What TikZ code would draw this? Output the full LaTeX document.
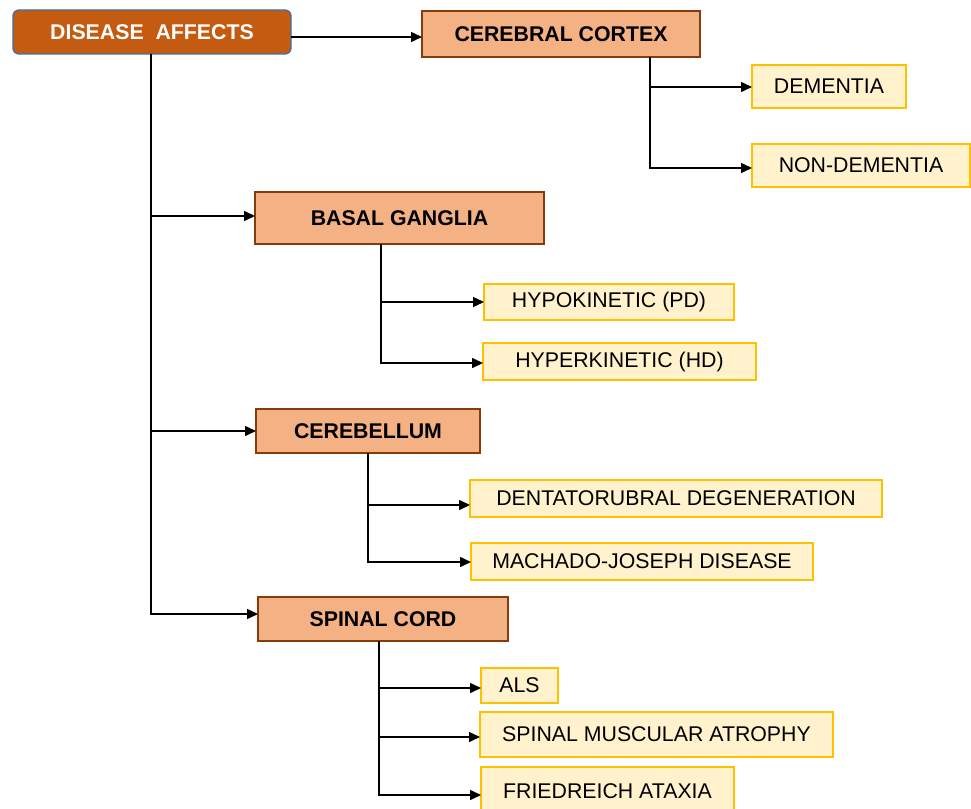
\documentclass[tikz,border=0pt]{standalone}
\usepackage{fontspec}
\setmainfont{Liberation Sans}
\usetikzlibrary{arrows.meta}
\definecolor{rootfill}{HTML}{C55A11}
\definecolor{rootline}{HTML}{41719C}
\definecolor{catfill}{HTML}{F4B183}
\definecolor{catline}{HTML}{843C0C}
\definecolor{leaffill}{HTML}{FFF2CC}
\definecolor{leafline}{HTML}{FFC000}
\begin{document}
\begin{tikzpicture}[x=1pt,y=-1pt,
  box/.style={inner sep=0pt, outer sep=0pt, align=center, font=\fontsize{21.3}{25}\selectfont},
  rootbox/.style={box, fill=rootfill, draw=rootline, line width=1.3pt, rounded corners=6pt, text=white, font=\fontsize{21.3}{25}\selectfont\bfseries},
  catbox/.style={box, fill=catfill, draw=catline, line width=1.5pt, font=\fontsize{21.3}{25}\selectfont\bfseries},
  leafbox/.style={box, fill=leaffill, draw=leafline, line width=2pt},
  arr/.style={line width=1.5pt, -{Triangle[length=11pt,width=10pt]}}]
\useasboundingbox (0,0) rectangle (971,808);
\fill[white] (0,0) rectangle (971,808);

\node[rootbox, minimum width=278pt, minimum height=44pt] (root) at (152,32) {DISEASE\ \ AFFECTS};

\node[catbox, minimum width=278pt, minimum height=46pt] (cortex) at (561,34) {CEREBRAL CORTEX};
\node[catbox, minimum width=289pt, minimum height=52pt] (bg) at (399.5,218) {BASAL GANGLIA};
\node[catbox, minimum width=224pt, minimum height=44pt] (cb) at (368,431) {CEREBELLUM};
\node[catbox, minimum width=250pt, minimum height=44pt] (sc) at (383,619) {SPINAL CORD};

\node[leafbox, minimum width=154pt, minimum height=43pt] (dem) at (829,86.5) {DEMENTIA};
\node[leafbox, minimum width=218pt, minimum height=43pt] (nondem) at (861,165.5) {NON-DEMENTIA};
\node[leafbox, minimum width=250pt, minimum height=36pt] (hypo) at (609,302) {HYPOKINETIC (PD)};
\node[leafbox, minimum width=273pt, minimum height=37pt] (hyper) at (619.5,361.5) {HYPERKINETIC (HD)};
\node[leafbox, minimum width=412pt, minimum height=37pt] (dent) at (676,498.5) {DENTATORUBRAL DEGENERATION};
\node[leafbox, minimum width=342pt, minimum height=37pt] (mach) at (642,561.5) {MACHADO-JOSEPH DISEASE};
\node[leafbox, minimum width=77pt, minimum height=35pt] (als) at (519.5,685.5) {ALS};
\node[leafbox, minimum width=353pt, minimum height=45pt] (sma) at (656.5,734.5) {SPINAL MUSCULAR ATROPHY};
\node[leafbox, minimum width=253pt, minimum height=48pt] (fa) at (607.5,791) {FRIEDREICH ATAXIA};

\coordinate (rx) at (151,0);
\coordinate (cx) at (650,0);
\coordinate (bx) at (381,0);
\coordinate (ex) at (368,0);
\coordinate (sx) at (379,0);

\draw[arr] ([yshift=-5pt]root.east) -- ([yshift=-3pt]cortex.west);
\draw[arr] (root.south -| rx) |- ([yshift=2pt]bg.west);
\draw[arr] (root.south -| rx) |- (cb.west);
\draw[arr] (root.south -| rx) |- ([yshift=5pt]sc.west);

\draw[arr] (cortex.south -| cx) |- ([yshift=-0.5pt]dem.west);
\draw[arr] (cortex.south -| cx) |- ([yshift=-2.5pt]nondem.west);

\draw[arr] (bg.south -| bx) |- (hypo.west);
\draw[arr] (bg.south -| bx) |- ([yshift=-1.5pt]hyper.west);

\draw[arr] (cb.south -| ex) |- ([yshift=-6.5pt]dent.west);
\draw[arr] (cb.south -| ex) |- ([yshift=-0.5pt]mach.west);

\draw[arr] (sc.south -| sx) |- ([yshift=-2.5pt]als.west);
\draw[arr] (sc.south -| sx) |- ([yshift=-2.5pt]sma.west);
\draw[arr] (sc.south -| sx) |- ([yshift=-4pt]fa.west);
\end{tikzpicture}
\end{document}
